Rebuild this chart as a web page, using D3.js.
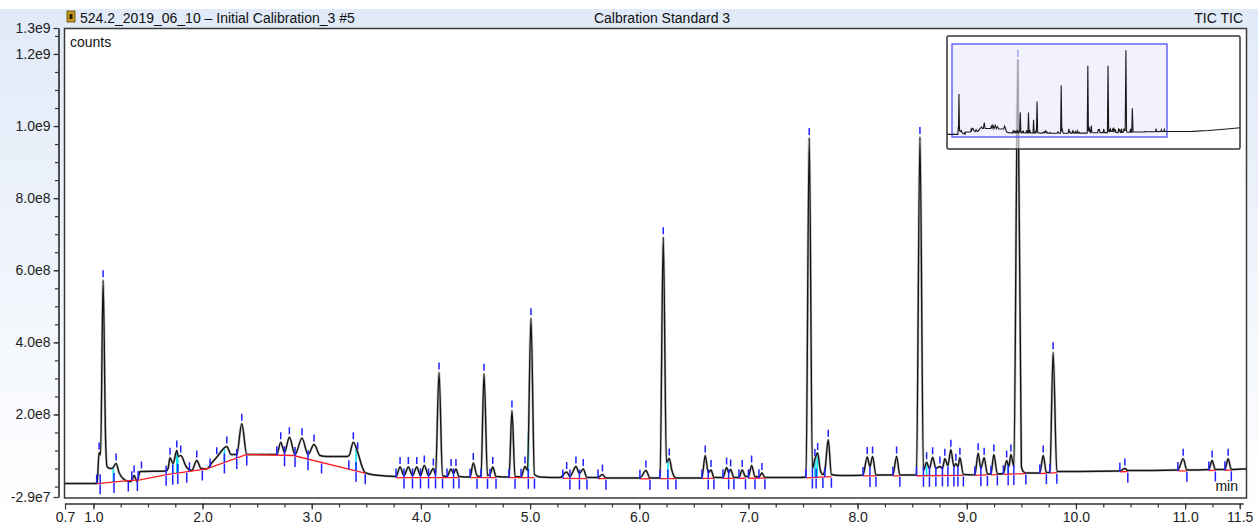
<!DOCTYPE html>
<html><head><meta charset="utf-8">
<script src="https://cdn.jsdelivr.net/npm/d3@7"></script>
<style>
body{margin:0;background:#fff}
svg{display:block}
text{font-family:"Liberation Sans",Arial,sans-serif}
</style>
</head><body>
<svg id="c" width="1258" height="525"></svg>
<script>
// ---------------- data ----------------
const titleLeft = "524.2_2019_06_10 \u2013 Initial Calibration_3 #5";
const titleCenter = "Calbration Standard 3";
const titleRight = "TIC TIC";
const yLabel = "counts";
const xLabel = "min";

const xDomain = [0.74, 11.53];
const yDomain = [-2.9e7, 1.272e9];
const xTickValues = [0.74, 1, 2, 3, 4, 5, 6, 7, 8, 9, 10, 11, 11.5];
const xTickLabels = ["0.7", "1.0", "2.0", "3.0", "4.0", "5.0", "6.0", "7.0", "8.0", "9.0", "10.0", "11.0", "11.5"];
const yTickValues = [-2.9e7, 2e8, 4e8, 6e8, 8e8, 1e9, 1.2e9, 1.272e9];
const yTickLabels = ["-2.9e7", "2.0e8", "4.0e8", "6.0e8", "8.0e8", "1.0e9", "1.2e9", "1.3e9"];

// TIC trace: retention time (min) and intensity (millions of counts)
const traceTime = [0.50, 0.741, 1.034, 1.052, 1.066, 1.089, 1.112, 1.125, 1.153, 1.171, 1.208, 1.235, 1.299, 1.345, 1.373, 1.400, 1.428, 1.666, 1.684, 1.702, 1.730, 1.764, 1.778, 1.800, 1.849, 1.901, 1.947, 1.986, 2.038, 2.087, 2.130, 2.222, 2.261, 2.313, 2.359, 2.405, 2.680, 2.716, 2.751, 2.795, 2.847, 2.911, 2.966, 3.021, 3.076, 3.137, 3.320, 3.342, 3.381, 3.421, 3.461, 3.488, 3.580, 3.772, 3.809, 3.845, 3.885, 3.923, 3.962, 3.996, 4.031, 4.070, 4.114, 4.134, 4.166, 4.198, 4.239, 4.276, 4.299, 4.321, 4.349, 4.450, 4.480, 4.514, 4.550, 4.578, 4.610, 4.633, 4.658, 4.688, 4.807, 4.834, 4.862, 4.917, 4.953, 4.976, 5.008, 5.040, 5.091, 5.274, 5.335, 5.365, 5.420, 5.452, 5.487, 5.521, 5.622, 5.663, 5.695, 6.006, 6.061, 6.098, 6.190, 6.220, 6.249, 6.275, 6.299, 6.336, 6.556, 6.574, 6.604, 6.632, 6.657, 6.684, 6.767, 6.800, 6.819, 6.837, 6.867, 6.913, 6.943, 6.973, 7.000, 7.029, 7.060, 7.096, 7.124, 7.151, 7.472, 7.527, 7.557, 7.586, 7.609, 7.634, 7.659, 7.682, 7.700, 7.731, 7.760, 7.838, 8.049, 8.088, 8.113, 8.137, 8.168, 8.323, 8.357, 8.387, 8.539, 8.571, 8.603, 8.632, 8.658, 8.687, 8.717, 8.754, 8.777, 8.799, 8.827, 8.854, 8.882, 8.900, 8.919, 8.937, 8.969, 9.074, 9.104, 9.129, 9.159, 9.189, 9.221, 9.248, 9.280, 9.335, 9.365, 9.386, 9.404, 9.431, 9.468, 9.500, 9.517, 9.541, 9.669, 9.700, 9.729, 9.761, 9.791, 9.825, 9.898, 10.402, 10.448, 10.475, 10.933, 10.982, 11.016, 11.217, 11.247, 11.277, 11.364, 11.394, 11.423, 11.528, 12.8, 13.6, 14.4, 15.2];
const traceMillions = [8.3, 8.3, 8.3, 94.4, 88, 572.2, 127.8, 55.6, 50, 50, 63.9, 38.9, 16.7, 13.9, 30.6, 13.9, 41.7, 43, 50, 79.7, 63.9, 100, 83.3, 86.1, 55.6, 44.4, 72.2, 50, 48.6, 66.7, 81.4, 111.1, 88.9, 88.9, 174.2, 88.9, 88.9, 123, 94.4, 136.9, 88.9, 134.2, 88.9, 116.7, 86.1, 83.3, 83.3, 86.1, 123, 95.3, 55.6, 38.9, 31.9, 27.8, 54.2, 30.6, 54.2, 30.6, 54.2, 30.6, 58.3, 30.6, 50, 33.3, 316.7, 30.6, 27.8, 48.6, 36.1, 48.6, 27.8, 26.4, 65.3, 30.6, 27.8, 313, 30.6, 33.3, 54.2, 27.8, 26.4, 211.1, 27.8, 26.4, 55.6, 44.4, 466.7, 33.3, 26.4, 25, 40.3, 27.8, 55.6, 36.1, 48.6, 25, 25, 33.3, 23.6, 23.6, 44.4, 23.6, 23.6, 691.7, 66.7, 77.8, 44.4, 23.6, 23.6, 25, 86.1, 38.9, 45.8, 25, 25, 52.8, 38.9, 47.2, 25, 25, 45.8, 27.8, 27.8, 58.3, 27.8, 26.4, 37.5, 25, 25, 26.4, 966.7, 50, 76.4, 93.1, 44.4, 33.3, 44.4, 129.7, 33.3, 30.6, 31.4, 81.9, 55.6, 83.3, 31.9, 31.9, 83.3, 31.9, 31.9, 969.4, 44.4, 67.5, 50, 81.4, 50, 55.6, 50, 76.9, 58.3, 101.9, 55.6, 63.1, 55.6, 79.7, 33.3, 32.5, 92.5, 50, 79.7, 34.7, 34.7, 88.9, 34.7, 36.1, 72.2, 55.6, 88.9, 55.6, 1183.3, 55.6, 41.7, 37.5, 37.5, 86.1, 38.9, 38.9, 372.2, 41.7, 41.7, 43, 50, 44.4, 45.8, 76.9, 45.8, 47.2, 72.2, 47.2, 47.2, 76.9, 47.2, 48.6, 50, 62, 80, 100];

// integrated peaks: start, apex, end (min)
const peakStart = [1.030, 1.062, 1.189, 1.352, 1.410, 1.666, 1.727, 1.773, 1.880, 2.069, 2.200, 2.313, 2.680, 2.751, 2.847, 2.966, 3.340, 3.406, 3.772, 3.845, 3.923, 3.996, 4.070, 4.134, 4.239, 4.299, 4.450, 4.550, 4.633, 4.807, 4.917, 4.984, 5.300, 5.365, 5.452, 5.622, 6.006, 6.190, 6.262, 6.574, 6.632, 6.767, 6.819, 6.913, 7.000, 7.096, 7.527, 7.586, 7.620, 7.700, 8.049, 8.113, 8.323, 8.539, 8.603, 8.658, 8.717, 8.777, 8.827, 8.882, 8.919, 9.074, 9.129, 9.221, 9.335, 9.379, 9.431, 9.669, 9.761, 10.402, 10.933, 11.217, 11.364];
const peakApex  = [1.052, 1.089, 1.208, 1.373, 1.440, 1.702, 1.764, 1.800, 1.947, 2.130, 2.222, 2.359, 2.716, 2.795, 2.911, 3.021, 3.381, 3.421, 3.809, 3.885, 3.962, 4.031, 4.114, 4.166, 4.276, 4.321, 4.480, 4.578, 4.658, 4.834, 4.953, 5.008, 5.335, 5.420, 5.487, 5.663, 6.061, 6.220, 6.275, 6.604, 6.657, 6.800, 6.837, 6.943, 7.029, 7.124, 7.557, 7.609, 7.634, 7.731, 8.088, 8.137, 8.357, 8.571, 8.632, 8.687, 8.754, 8.799, 8.854, 8.900, 8.937, 9.104, 9.159, 9.248, 9.365, 9.404, 9.468, 9.700, 9.791, 10.448, 10.982, 11.247, 11.394];
const peakEnd   = [1.062, 1.189, 1.320, 1.403, 1.666, 1.727, 1.773, 1.855, 1.998, 2.200, 2.313, 2.405, 2.751, 2.847, 2.966, 3.090, 3.406, 3.490, 3.845, 3.923, 3.996, 4.070, 4.134, 4.198, 4.299, 4.349, 4.514, 4.610, 4.688, 4.862, 4.984, 5.040, 5.365, 5.452, 5.521, 5.695, 6.098, 6.262, 6.336, 6.632, 6.684, 6.819, 6.867, 6.973, 7.060, 7.151, 7.586, 7.620, 7.682, 7.760, 8.113, 8.168, 8.387, 8.603, 8.658, 8.717, 8.777, 8.827, 8.882, 8.919, 8.969, 9.129, 9.189, 9.280, 9.379, 9.431, 9.541, 9.729, 9.825, 10.475, 11.016, 11.277, 11.423];

// integration baseline knots (min, millions of counts)
const baseTime = [0.74, 1.034, 1.32, 1.428, 1.672, 2.038, 2.405, 2.832, 3.488, 3.60, 3.763, 5.10, 5.30, 6.00, 6.50, 7.50, 7.84, 8.05, 8.54, 9.07, 9.54, 9.67, 9.90, 10.40, 11.00, 11.53];
const baseMillions = [8.3, 8.3, 16.7, 18.6, 33.3, 49.2, 88.9, 86.1, 36.9, 28.5, 25, 24.5, 22.5, 21.5, 22.5, 23.5, 28.5, 29.5, 30, 31, 36, 36, 39.5, 41, 43.5, 46];
// red integration baseline spans (min)
const redStart = [1.030, 3.772, 4.450, 4.807, 5.300, 5.622, 6.006, 6.190, 6.574, 6.767, 6.913, 7.000, 7.527, 8.049, 8.323, 8.539, 9.074, 9.221, 9.335, 9.669, 9.761, 10.402, 10.933, 11.217, 11.364];
const redEnd   = [3.490, 4.349, 4.688, 5.040, 5.521, 5.695, 6.098, 6.336, 6.684, 6.867, 6.973, 7.151, 7.760, 8.168, 8.387, 8.969, 9.189, 9.280, 9.541, 9.729, 9.825, 10.475, 11.016, 11.277, 11.423];
// perpendicular drop lines (min)
const dropTime = [1.183, 1.727, 1.764, 1.773, 2.200, 3.406, 4.984, 6.262, 7.609, 7.630, 8.632, 9.379];

// ---------------- drawing ----------------
const W = 1258, H = 525;
const frame = {l: 64.5, t: 28.5, r: 1246.5, b: 498};
const traceCounts = traceMillions.map(d => d * 1e6);
const trace = traceTime.map((t, i) => [t, traceCounts[i]]);
const baseAt = d3.scaleLinear().domain(baseTime).range(baseMillions.map(d => d * 1e6)).clamp(true);
const traceAt = d3.scaleLinear().domain(traceTime).range(traceCounts).clamp(true);

const svg = d3.select("#c");
const defs = svg.append("defs");
const grad = defs.append("linearGradient").attr("id", "bg").attr("x1", 0).attr("y1", 0).attr("x2", 0).attr("y2", 1);
grad.append("stop").attr("offset", "0%").attr("stop-color", "#e1eaf8");
grad.append("stop").attr("offset", "100%").attr("stop-color", "#ffffff");
svg.append("rect").attr("x", 0).attr("y", 0).attr("width", W).attr("height", H).attr("fill", "#fff");
svg.append("rect").attr("x", 0).attr("y", 9).attr("width", W).attr("height", H - 9).attr("fill", "url(#bg)");

// header
const ic = svg.append("g").attr("transform", "translate(67,11)");
ic.append("rect").attr("width", 8).attr("height", 11).attr("fill", "#c99a1e").attr("stroke", "#5b4300").attr("stroke-width", 0.8);
ic.append("rect").attr("x", 2.5).attr("y", 3).attr("width", 3).attr("height", 5).attr("fill", "#2a2000");
svg.append("text").attr("x", 80).attr("y", 23).attr("font-size", 14).attr("fill", "#111").text(titleLeft);
svg.append("text").attr("x", 662).attr("y", 23).attr("font-size", 14).attr("fill", "#111").attr("text-anchor", "middle").text(titleCenter);
svg.append("text").attr("x", 1243).attr("y", 23).attr("font-size", 14).attr("fill", "#111").attr("text-anchor", "end").text(titleRight);

// plot area
svg.append("rect").attr("x", frame.l).attr("y", frame.t).attr("width", frame.r - frame.l).attr("height", frame.b - frame.t)
  .attr("fill", "#fff");

const x = d3.scaleLinear().domain(xDomain).range([65, 1243]);
const y = d3.scaleLinear().domain(yDomain).range([497, 28]);

defs.append("clipPath").attr("id", "plotclip").append("rect")
  .attr("x", frame.l + 0.5).attr("y", frame.t + 0.5).attr("width", frame.r - frame.l - 1).attr("height", frame.b - frame.t - 1);
const plot = svg.append("g").attr("clip-path", "url(#plotclip)");

// drop lines (cyan)
plot.append("g").selectAll("line").data(dropTime).join("line")
  .attr("x1", d => x(d)).attr("x2", d => x(d))
  .attr("y1", d => y(traceAt(d))).attr("y2", d => y(baseAt(d)))
  .attr("stroke", "#00e5f0").attr("stroke-width", 1.6);

// trace
const line = d3.line().x(d => x(d[0])).y(d => y(d[1]));
const smooth = d3.line().x(d => x(d[0])).y(d => y(d[1])).curve(d3.curveMonotoneX);
plot.append("path").datum(trace).attr("d", smooth)
  .attr("fill", "none").attr("stroke", "#9a9a9a").attr("stroke-width", 2.6).attr("stroke-opacity", 0.55).attr("stroke-linejoin", "round");
plot.append("path").datum(trace).attr("d", smooth)
  .attr("fill", "none").attr("stroke", "#151515").attr("stroke-width", 1.4).attr("stroke-linejoin", "round");

// red integration baseline
const redPaths = redStart.map((s, i) => {
  const e = redEnd[i];
  const ts = [s, ...baseTime.filter(t => t > s && t < e), e];
  return ts.map(t => [t, baseAt(t)]);
});
plot.append("g").selectAll("path").data(redPaths).join("path")
  .attr("d", line).attr("fill", "none").attr("stroke", "#ff1f1f").attr("stroke-width", 1.3);

// peak markers (blue)
const blue = "#2020ff";
const mk = plot.append("g").attr("stroke", blue).attr("stroke-width", 1.5);
mk.selectAll("line.apex").data(peakApex).join("line").attr("class", "apex")
  .attr("x1", d => x(d)).attr("x2", d => x(d))
  .attr("y1", d => y(traceAt(d)) - 10).attr("y2", d => y(traceAt(d)) - 3);
mk.selectAll("line.start").data(peakStart).join("line").attr("class", "start")
  .attr("x1", d => x(d)).attr("x2", d => x(d))
  .attr("y1", d => y(baseAt(d)) - 9).attr("y2", d => y(baseAt(d)));
mk.selectAll("line.end").data(peakEnd).join("line").attr("class", "end")
  .attr("x1", d => x(d)).attr("x2", d => x(d))
  .attr("y1", d => y(baseAt(d)) + 1).attr("y2", d => y(baseAt(d)) + 11);

// labels inside
svg.append("text").attr("x", 70).attr("y", 47).attr("font-size", 14).attr("fill", "#111").text(yLabel);
svg.append("text").attr("x", 1238).attr("y", 491).attr("font-size", 14).attr("fill", "#111").attr("text-anchor", "end").text(xLabel);

// frame border
svg.append("rect").attr("x", frame.l).attr("y", frame.t).attr("width", frame.r - frame.l).attr("height", frame.b - frame.t)
  .attr("fill", "none").attr("stroke", "#3a3a3a").attr("stroke-width", 1.5);

// axes
function styleAxis(g) {
  g.selectAll("path").attr("stroke", "#333").attr("stroke-width", 1.2);
  g.selectAll("line").attr("stroke", "#333").attr("stroke-width", 1.2);
  g.selectAll("text").attr("fill", "#222").attr("font-size", 14).attr("font-family", "Liberation Sans, Arial, sans-serif");
}
const xMinor = d3.range(1, 11.5001, 0.25);
svg.append("g").attr("transform", "translate(0,503.5)")
  .call(d3.axisBottom(x).tickValues(xMinor).tickSize(4).tickSizeOuter(0).tickFormat(""))
  .call(styleAxis);
svg.append("g").attr("transform", "translate(0,503.5)")
  .call(d3.axisBottom(x).tickValues(xTickValues).tickSize(6).tickSizeOuter(0).tickFormat((d, i) => xTickLabels[i]))
  .call(styleAxis);
const yMinor = d3.range(0, 1.25e9 + 1, 5e7);
svg.append("g").attr("transform", "translate(58.5,0)")
  .call(d3.axisLeft(y).tickValues(yMinor).tickSize(3.5).tickSizeOuter(0).tickFormat(""))
  .call(styleAxis);
svg.append("g").attr("transform", "translate(58.5,0)")
  .call(d3.axisLeft(y).tickValues(yTickValues).tickSize(5).tickSizeOuter(0).tickFormat((d, i) => yTickLabels[i]))
  .call(styleAxis);

// overview inset
const inset = {l: 947, t: 36, r: 1240, b: 149};
const xi = d3.scaleLinear().domain(xDomain).range([952, 1167]);
const yi = d3.scaleLinear().domain(yDomain).range([137, 44]);
defs.append("clipPath").attr("id", "insetclip").append("rect")
  .attr("x", inset.l).attr("y", inset.t).attr("width", inset.r - inset.l).attr("height", inset.b - inset.t);
const ig = svg.append("g");
ig.append("rect").attr("x", inset.l).attr("y", inset.t).attr("width", inset.r - inset.l).attr("height", inset.b - inset.t)
  .attr("fill", "rgba(255,255,255,0.62)");
ig.append("rect").attr("x", xi(xDomain[0])).attr("y", yi(yDomain[1]))
  .attr("width", xi(xDomain[1]) - xi(xDomain[0])).attr("height", yi(yDomain[0]) - yi(yDomain[1]))
  .attr("fill", "rgba(110,110,255,0.09)").attr("stroke", "#4f4fff").attr("stroke-width", 1.3);
ig.append("path").datum(trace).attr("clip-path", "url(#insetclip)")
  .attr("d", d3.line().x(d => xi(d[0])).y(d => yi(d[1])))
  .attr("fill", "none").attr("stroke", "#1a1a1a").attr("stroke-width", 1.1);
ig.append("rect").attr("x", inset.l).attr("y", inset.t).attr("width", inset.r - inset.l).attr("height", inset.b - inset.t)
  .attr("fill", "none").attr("stroke", "#333").attr("stroke-width", 1.5).attr("rx", 1.5);
</script>
</body></html>
